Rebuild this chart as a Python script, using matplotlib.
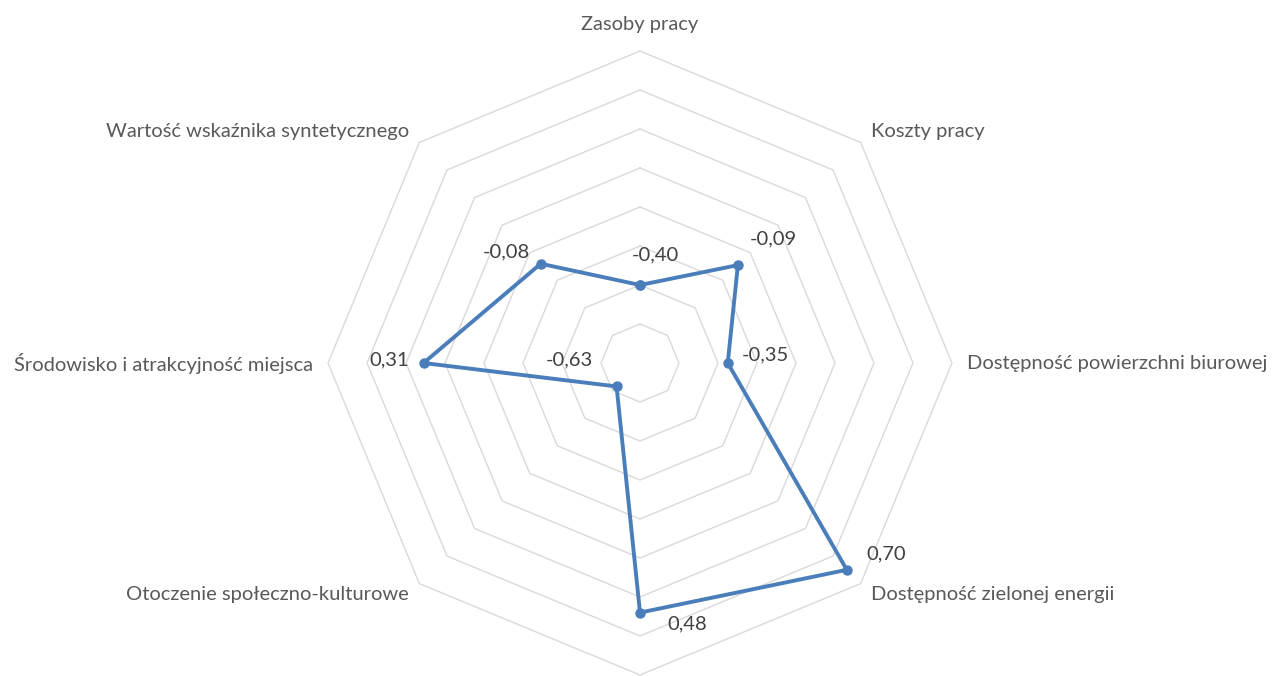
import numpy as np
import matplotlib.pyplot as plt

plt.rcParams['font.family'] = ['Lato', 'DejaVu Sans']

# dane
kategorie = ['Zasoby pracy', 'Koszty pracy', 'Dostępność powierzchni biurowej',
             'Dostępność zielonej energii', '', 'Otoczenie społeczno-kulturowe',
             'Środowisko i atrakcyjność miejsca', 'Wartość wskaźnika syntetycznego']
wartosci = [-0.40, -0.09, -0.35, 0.70, 0.48, -0.63, 0.31, -0.08]
etykiety = ['-0,40', '-0,09', '-0,35', '0,70', '0,48', '-0,63', '0,31', '-0,08']
pierscienie = [-0.6, -0.4, -0.2, 0.0, 0.2, 0.4, 0.6, 0.8]

# przesunięcia etykiet wartości (piksele)
przes = [(15, 30), (35, 26), (38, 8), (39, 16), (47, -11), (-47, 27), (-34, 3), (-34, 12)]

n = len(kategorie)
kat = np.arange(n) * 2 * np.pi / n
kat_z = np.append(kat, kat[0])

fig = plt.figure(figsize=(12.8, 6.76), dpi=100)
ax = fig.add_axes([0.25625, 0.0015, 0.4875, 0.923], projection='polar')
ax.set_theta_offset(np.pi / 2)
ax.set_theta_direction(-1)
ax.set_rlim(-0.8, 0.8)
ax.grid(False)
ax.spines['polar'].set_visible(False)
ax.set_xticks([])
ax.set_yticks([])
ax.patch.set_alpha(0)

# siatka wielokątna
for r in pierscienie:
    ax.plot(kat_z, [r] * (n + 1), color='#d9d9d9', lw=1, clip_on=False, zorder=1)

# seria
w = np.append(wartosci, wartosci[0])
ax.plot(kat_z, w, color='#4a7ebb', lw=2.8, marker='o', ms=6.5, clip_on=False, zorder=3)

# etykiety wartości
for t, v, lab, (dx, dy) in zip(kat, wartosci, etykiety, przes):
    ax.annotate(lab, (t, v), xytext=(dx, dy), textcoords='offset pixels',
                ha='center', va='center', fontsize=14.5, color='#404040')

# etykiety kategorii
for t, lab in zip(kat, kategorie):
    s, c = np.sin(t), np.cos(t)
    ha = 'center' if abs(s) < 0.1 else ('left' if s > 0 else 'right')
    if c > 0.9:
        va, d = 'bottom', 18
    elif c < -0.9:
        va, d = 'top', 20
    else:
        va, d = 'center', 15
    ax.annotate(lab, (t, 0.8), xytext=(d * s, d * c), textcoords='offset pixels',
                ha=ha, va=va, fontsize=14.5, color='#595959', annotation_clip=False)

fig.savefig('out.png', dpi=100)
